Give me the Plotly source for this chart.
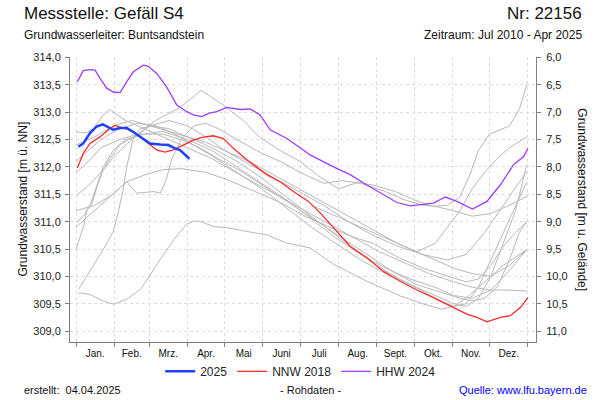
import plotly.graph_objects as go

# ---------------- data (day of year, 0 = 1 Jan) ----------------
month_names = ["Jan.", "Feb.", "Mrz.", "Apr.", "Mai", "Juni", "Juli", "Aug.", "Sept.", "Okt.", "Nov.", "Dez."]
month_starts = [0, 31, 59, 90, 120, 151, 181, 212, 243, 273, 304, 334, 365]
month_mids = [15.5, 45, 74.5, 105, 135.5, 166, 196.5, 227.5, 258, 288.5, 319, 349.5]

y2025_days = [1.9, 5.9, 11.3, 16.7, 21.6, 26.1, 30.1, 35.6, 41.0, 46.3, 53.1, 59.8, 67.9, 74.6, 80.0, 84.0, 91.6]
y2025_vals = [312.37, 312.43, 312.62, 312.74, 312.78, 312.72, 312.68, 312.71, 312.71, 312.64, 312.54, 312.43,
              312.41, 312.40, 312.34, 312.31, 312.15]

nnw2018_days = [1.1, 5.9, 11.3, 19.4, 26.1, 31.5, 36.9, 43.6, 51.7, 58.4, 65.2, 71.9, 78.6, 86.7, 94.8, 101.6,
                110.9, 119.0, 127.1, 137.9, 148.7, 154.1, 164.8, 175.6, 187.7, 197.2, 207.9, 221.4, 234.9,
                248.3, 261.8, 275.3, 288.7, 296.8, 304.9, 315.7, 323.8, 331.9, 342.6, 350.7, 358.8, 365.0]
nnw2018_vals = [311.98, 312.25, 312.43, 312.55, 312.68, 312.76, 312.72, 312.68, 312.55, 312.43, 312.31, 312.27,
                312.31, 312.40, 312.49, 312.54, 312.57, 312.52, 312.34, 312.13, 311.96, 311.86, 311.73, 311.55,
                311.37, 311.16, 310.89, 310.55, 310.34, 310.09, 309.91, 309.75, 309.61, 309.52, 309.43, 309.31,
                309.25, 309.17, 309.25, 309.28, 309.43, 309.61]

hhw2024_days = [1.1, 5.9, 11.3, 15.4, 19.4, 24.8, 30.1, 35.6, 41.0, 46.3, 54.4, 58.4, 65.2, 73.3, 81.4, 89.5,
                94.8, 101.6, 106.9, 113.7, 121.8, 132.5, 140.6, 148.7, 156.8, 170.3, 181.0, 189.1, 207.9,
                221.4, 234.9, 251.1, 259.2, 269.9, 278.0, 288.7, 298.2, 307.6, 320.2, 331.9, 342.6, 353.4,
                361.5, 365.0]
hhw2024_vals = [313.56, 313.76, 313.78, 313.77, 313.62, 313.44, 313.37, 313.36, 313.56, 313.74, 313.86, 313.84,
                313.71, 313.46, 313.13, 313.01, 312.95, 312.92, 312.98, 313.01, 313.09, 313.05, 313.06, 312.95,
                312.68, 312.52, 312.35, 312.22, 312.00, 311.86, 311.67, 311.46, 311.35, 311.29, 311.31, 311.34,
                311.45, 311.37, 311.23, 311.37, 311.67, 312.04, 312.19, 312.34]

g2010_days = [190, 210, 230, 250, 270, 290, 305, 320, 335, 350, 364]
g2010_vals = [311.30, 311.10, 310.90, 310.70, 310.50, 310.30, 310.15, 310.05, 310.00, 310.20, 310.49]

g2011_days = [2, 11, 22, 30, 41, 52, 60, 68, 79, 89, 95, 100, 111, 122, 138, 154, 170, 189, 208, 235, 262, 280,
              295, 305, 315, 330, 345, 364]
g2011_vals = [309.70, 309.67, 309.55, 309.49, 309.58, 309.76, 310.03, 310.31, 310.67, 310.95, 311.01, 311.01,
              310.91, 310.89, 310.82, 310.76, 310.61, 310.52, 310.22, 309.91, 309.64, 309.50, 309.40, 309.45,
              309.60, 309.90, 310.20, 310.49]

g2012_days = [0, 6, 9, 13, 17, 21, 25, 35, 50, 65, 85, 101, 119, 135, 148, 165, 181, 195, 212, 228, 243, 258,
              273, 288, 300, 310, 318, 325, 334, 342, 350, 358, 364]
g2012_vals = [310.49, 310.91, 311.22, 311.34, 311.64, 311.89, 312.07, 312.40, 312.60, 312.86, 313.10, 313.40,
              313.13, 312.85, 312.55, 312.30, 312.10, 311.85, 311.60, 311.72, 311.65, 311.55, 311.40, 311.28,
              311.30, 311.45, 311.85, 312.30, 312.60, 312.68, 312.75, 313.05, 313.50]

g2013_days = [2, 14, 22, 30, 34, 38, 41, 46, 52, 60, 75, 90, 110, 130, 150, 170, 190, 210, 230, 250, 270, 290,
              305, 315, 325, 335, 345, 355, 364]
g2013_vals = [309.76, 310.19, 310.49, 310.82, 311.16, 311.58, 312.01, 312.50, 312.70, 312.75, 312.70, 312.55,
              312.35, 312.10, 311.80, 311.45, 311.10, 310.75, 310.40, 310.10, 309.85, 309.60, 309.45, 309.50,
              309.80, 310.30, 310.80, 311.30, 311.73]

g2014_days = [1, 6, 11, 16, 22, 30, 40, 55, 70, 90, 110, 130, 150, 170, 190, 210, 230, 250, 270, 290, 305, 320,
              335, 350, 364]
g2014_vals = [311.00, 311.10, 311.28, 311.60, 312.00, 312.30, 312.50, 312.60, 312.65, 312.50, 312.30, 312.00,
              311.70, 311.40, 311.05, 310.70, 310.40, 310.15, 309.95, 309.80, 309.65, 309.60, 309.75, 310.10,
              310.49]

g2015_days = [1, 9, 20, 31, 45, 60, 75, 90, 105, 120, 140, 160, 180, 200, 220, 240, 260, 280, 300, 315, 330,
              345, 364]
g2015_vals = [311.49, 311.64, 311.90, 312.20, 312.50, 312.75, 312.85, 312.75, 312.55, 312.30, 312.05, 311.80,
              311.55, 311.30, 311.00, 310.75, 310.55, 310.40, 310.30, 310.40, 310.80, 311.30, 311.92]

g2016_days = [0, 8, 14, 22, 27, 33, 40, 50, 65, 80, 95, 110, 125, 145, 165, 185, 205, 225, 245, 265, 285, 305,
              320, 335, 350, 364]
g2016_vals = [312.64, 312.62, 312.70, 312.95, 313.05, 312.95, 312.85, 312.75, 312.60, 312.45, 312.30, 312.15,
              311.95, 311.70, 311.45, 311.20, 310.95, 310.70, 310.45, 310.25, 310.05, 309.90, 309.80, 309.75,
              309.75, 309.73]

g2017_days = [0, 15, 30, 41, 55, 70, 85, 105, 122, 140, 165, 185, 205, 220, 240, 260, 280, 300, 315, 325, 335,
              345, 355, 364]
g2017_vals = [311.20, 311.30, 311.50, 311.73, 311.85, 311.95, 311.97, 311.90, 311.77, 311.60, 311.35, 311.10,
              310.90, 310.75, 310.60, 310.35, 310.15, 310.00, 309.90, 309.95, 310.20, 310.55, 310.80, 311.00]

g2019_days = [0, 10, 20, 30, 41, 49, 63, 68, 73, 77, 85, 95, 105, 115, 130, 150, 165, 181, 200, 215, 230, 250,
              265, 280, 290, 305, 320, 335, 350, 364]
g2019_vals = [310.90, 311.10, 311.30, 311.50, 311.73, 311.52, 311.55, 311.52, 311.77, 312.13, 312.50, 312.75,
              312.80, 312.70, 312.50, 312.25, 312.10, 311.90, 311.70, 311.75, 311.70, 311.55, 311.40, 311.30,
              311.28, 311.20, 311.10, 311.15, 311.30, 311.46]

g2020_days = [0, 10, 20, 35, 50, 65, 80, 95, 110, 130, 150, 170, 190, 210, 230, 250, 270, 290, 305, 315, 325,
              335, 345, 355, 364]
g2020_vals = [312.10, 312.30, 312.50, 312.70, 312.80, 312.75, 312.60, 312.40, 312.20, 311.90, 311.60, 311.25,
              310.90, 310.60, 310.30, 310.05, 309.85, 309.65, 309.50, 309.45, 309.60, 310.00, 310.60, 311.20,
              312.04]

g2021_days = [0, 15, 30, 45, 60, 75, 90, 105, 120, 140, 160, 180, 200, 220, 240, 260, 275, 290, 300, 310, 320,
              330, 340, 350, 364]
g2021_vals = [312.40, 312.55, 312.75, 312.85, 312.75, 312.65, 312.55, 312.45, 312.30, 312.10, 311.85, 311.60,
              311.35, 311.10, 310.85, 310.60, 310.45, 310.60, 310.90, 311.20, 311.60, 311.90, 312.15, 312.35,
              312.55]

g2022_days = [0, 10, 20, 35, 50, 70, 85, 100, 115, 135, 155, 175, 195, 215, 235, 255, 275, 295, 310, 320, 330,
              340, 350, 358, 364]
g2022_vals = [311.90, 312.10, 312.35, 312.50, 312.60, 312.60, 312.50, 312.35, 312.15, 311.90, 311.60, 311.30,
              311.00, 310.70, 310.40, 310.10, 309.85, 309.70, 309.60, 309.55, 309.60, 309.80, 310.30, 310.80,
              311.00]

grey_series = [
    (g2010_days, g2010_vals), (g2011_days, g2011_vals), (g2012_days, g2012_vals), (g2013_days, g2013_vals),
    (g2014_days, g2014_vals), (g2015_days, g2015_vals), (g2016_days, g2016_vals), (g2017_days, g2017_vals),
    (g2019_days, g2019_vals), (g2020_days, g2020_vals), (g2021_days, g2021_vals), (g2022_days, g2022_vals),
]

# ---------------- figure ----------------
FONT = "Liberation Sans, Arial, sans-serif"
AXIS_COL = "#808080"
GRID_COL = "#dddddd"

fig = go.Figure()

for d, v in grey_series:
    fig.add_trace(go.Scatter(x=d, y=v, mode="lines", line=dict(color="#b8b8b8", width=1),
                             showlegend=False, hoverinfo="skip"))

fig.add_trace(go.Scatter(x=nnw2018_days, y=nnw2018_vals, mode="lines", name="NNW 2018",
                         line=dict(color="#ff2a2a", width=1.3), legendrank=2))
fig.add_trace(go.Scatter(x=hhw2024_days, y=hhw2024_vals, mode="lines", name="HHW 2024",
                         line=dict(color="#9b3cff", width=1.3), legendrank=3))
fig.add_trace(go.Scatter(x=y2025_days, y=y2025_vals, mode="lines", name="2025",
                         line=dict(color="#2040ff", width=2.5), legendrank=1))
# carrier for the right-hand axis
fig.add_trace(go.Scatter(x=[], y=[], yaxis="y2", showlegend=False, hoverinfo="skip"))

y_lo, y_hi = 308.80, 314.01
ground = 320.0

fig.update_layout(
    width=600, height=400,
    margin=dict(l=70, r=64, t=57, b=57.5),
    paper_bgcolor="white", plot_bgcolor="white",
    separators=",.",
    font=dict(family=FONT, size=11, color="#222222"),
    showlegend=True,
    legend=dict(orientation="h", x=0.495, xanchor="center", y=-0.103, yanchor="middle",
                font=dict(size=12, color="#222222"), itemwidth=30, tracegroupgap=0,
                bgcolor="rgba(0,0,0,0)"),
    xaxis=dict(range=[-4.85, 371.5], tickmode="array", tickvals=month_mids, ticktext=month_names,
               ticks="", showgrid=False, zeroline=False, showline=True, linecolor=AXIS_COL, linewidth=1,
               tickfont=dict(size=10, color="#111111"), ticklabelstandoff=2,
               minor=dict(tickmode="array", tickvals=month_starts, ticks="outside", ticklen=4,
                          tickcolor=AXIS_COL, showgrid=True, gridcolor=GRID_COL, griddash="3px,3px",
                          gridwidth=1)),
    yaxis=dict(range=[y_lo, y_hi], tick0=309, dtick=0.5, tickformat=".1f", ticks="outside", ticklen=4,
               tickcolor=AXIS_COL, showline=True, linecolor=AXIS_COL, linewidth=1, zeroline=False,
               showgrid=True, gridcolor=GRID_COL, griddash="3px,3px", gridwidth=1,
               tickfont=dict(size=11, color="#222222"), ticklabelstandoff=2),
    yaxis2=dict(range=[ground - y_lo, ground - y_hi], overlaying="y", side="right", tick0=6, dtick=0.5,
                tickformat=".1f", ticks="outside", ticklen=4, tickcolor=AXIS_COL, showline=True,
                linecolor=AXIS_COL, linewidth=1, showgrid=False, zeroline=False,
                tickfont=dict(size=11, color="#222222"), ticklabelstandoff=3),
)

def ann(text, x, y, xanchor="left", size=12, color="#111111", angle=0):
    fig.add_annotation(text=text, x=x, y=y, xref="paper", yref="paper", xanchor=xanchor,
                       yanchor="middle", showarrow=False, textangle=angle,
                       font=dict(family=FONT, size=size, color=color))

ann("Messstelle: Gefäll S4", -0.103, 1.152, "left", 17)
ann("Nr: 22156", 1.103, 1.152, "right", 17)
ann("Grundwasserleiter: Buntsandstein", -0.103, 1.076, "left", 12)
ann("Zeitraum: Jul 2010 - Apr 2025", 1.103, 1.076, "right", 12)
ann("Grundwasserstand [m ü. NN]", -0.103, 0.5, "center", 12, angle=-90)
ann("Grundwasserstand [m u. Gelände]", 1.099, 0.5, "center", 12, angle=90)
ann("erstellt:  04.04.2025", -0.103, -0.170, "left", 11)
ann("- Rohdaten -", 0.517, -0.170, "center", 11)
ann("Quelle: www.lfu.bayern.de", 1.114, -0.170, "right", 11, color="#0000ff")

fig.write_html("out.html")
